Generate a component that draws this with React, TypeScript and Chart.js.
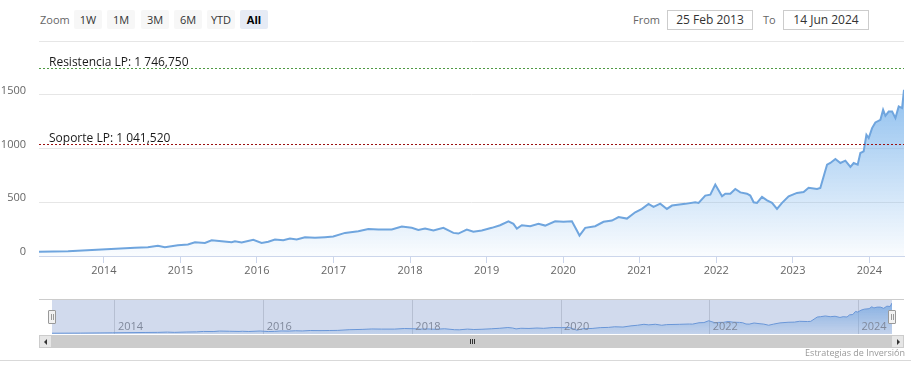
import React, { useEffect, useRef } from "react";
import { Chart, registerables } from "chart.js";

Chart.register(...registerables);

// ---------- data ----------
const years = [
  2013.153, 2013.533, 2013.970, 2014.405, 2014.575, 2014.706, 2014.797, 2014.967, 2015.098, 2015.190,
  2015.320, 2015.408, 2015.539, 2015.669, 2015.712, 2015.800, 2015.952, 2016.061, 2016.148, 2016.235,
  2016.344, 2016.431, 2016.519, 2016.627, 2016.758, 2016.889, 2016.997, 2017.150, 2017.324, 2017.455,
  2017.586, 2017.761, 2017.892, 2018.022, 2018.108, 2018.196, 2018.305, 2018.435, 2018.566, 2018.631,
  2018.741, 2018.827, 2018.937, 2019.068, 2019.176, 2019.285, 2019.350, 2019.395, 2019.460, 2019.569,
  2019.677, 2019.765, 2019.895, 2020.004, 2020.114, 2020.179, 2020.213, 2020.288, 2020.418, 2020.527,
  2020.637, 2020.723, 2020.833, 2020.941, 2021.029, 2021.115, 2021.180, 2021.268, 2021.355, 2021.421,
  2021.595, 2021.725, 2021.769, 2021.856, 2021.922, 2021.987, 2022.030, 2022.075, 2022.118, 2022.183,
  2022.248, 2022.314, 2022.401, 2022.444, 2022.488, 2022.532, 2022.597, 2022.663, 2022.728, 2022.793,
  2022.859, 2022.945, 2023.054, 2023.141, 2023.206, 2023.316, 2023.359, 2023.403, 2023.447, 2023.490,
  2023.556, 2023.621, 2023.686, 2023.752, 2023.795, 2023.847, 2023.882, 2023.925, 2023.961, 2023.991,
  2024.035, 2024.078, 2024.144, 2024.179, 2024.209, 2024.252, 2024.297, 2024.340, 2024.383, 2024.427,
  2024.452,
];

const prices = [
  39, 45, 60, 76, 82, 95, 82, 100, 107, 128,
  122, 147, 137, 128, 137, 125, 150, 122, 132, 153,
  147, 162, 153, 175, 169, 175, 181, 215, 230, 252,
  246, 246, 274, 262, 243, 255, 237, 262, 215, 209,
  246, 225, 237, 262, 286, 323, 299, 255, 286, 277,
  299, 283, 323, 318, 323, 237, 190, 262, 277, 318,
  330, 362, 348, 407, 438, 485, 457, 487, 438, 469,
  485, 500, 494, 562, 571, 664, 611, 555, 580, 580,
  624, 592, 580, 562, 500, 494, 550, 518, 494, 438,
  494, 555, 587, 595, 635, 624, 633, 741, 850, 865,
  902, 865, 887, 828, 865, 850, 958, 973, 1128, 1097,
  1190, 1242, 1267, 1360, 1304, 1344, 1344, 1283, 1391, 1376,
  1546,
];

const startYear = 2013.153; // 25 Feb 2013
const endYear = 2024.452; // 14 Jun 2024
const xTicksMain = [2014, 2015, 2016, 2017, 2018, 2019, 2020, 2021, 2022, 2023, 2024];
const xTicksNav = [2014, 2016, 2018, 2020, 2022, 2024];
const yTicks = [0, 500, 1000, 1500, 2000];
const yMax = 2000;
const navYMax = 1750;

const refValues = [1746.75, 1041.52];
const refNames = ["Resistencia LP", "Soporte LP"];
const refColors = ["#4e9a43", "#9b1010"];

const rangeButtons = ["1W", "1M", "3M", "6M", "YTD", "All"];
const selectedButton = "All";
const fromText = "25 Feb 2013";
const toText = "14 Jun 2024";
const creditText = "Estrategias de Inversión";

const FONT = "'Open Sans', 'Noto Sans', sans-serif";

function fmtNumber(v: number): string {
  const intPart = Math.floor(v).toString().replace(/\B(?=(\d{3})+$)/g, " ");
  const dec = v.toFixed(3).split(".")[1];
  return `${intPart},${dec}`;
}

const points = years.map((x, i) => ({ x, y: prices[i] }));

const refLinesPlugin = {
  id: "refLines",
  afterDatasetsDraw(chart: any) {
    const { ctx, chartArea, scales } = chart;
    const y = scales.y;
    ctx.save();
    refValues.forEach((v, i) => {
      const py = Math.round(y.getPixelForValue(v)) + 0.5;
      ctx.beginPath();
      ctx.setLineDash([2, 2]);
      ctx.strokeStyle = refColors[i];
      ctx.lineWidth = 1;
      ctx.moveTo(chartArea.left, py);
      ctx.lineTo(chartArea.right, py);
      ctx.stroke();
      ctx.setLineDash([]);
      ctx.fillStyle = "#1a1a1a";
      ctx.font = `12px ${FONT}`;
      ctx.textAlign = "left";
      ctx.textBaseline = "alphabetic";
      ctx.fillText(`${refNames[i]}: ${fmtNumber(v)}`, chartArea.left + 10, py - 3);
    });
    ctx.restore();
  },
};

const navPlugin = {
  id: "navDecor",
  afterDatasetsDraw(chart: any) {
    const { ctx, chartArea, scales } = chart;
    const x = scales.x;
    ctx.save();
    ctx.fillStyle = "#8a8a8a";
    ctx.font = `11px ${FONT}`;
    ctx.textAlign = "left";
    ctx.textBaseline = "alphabetic";
    xTicksNav.forEach((v) => {
      ctx.fillText(String(v), x.getPixelForValue(v) + 3, chartArea.bottom - 4);
    });
    ctx.fillStyle = "rgba(102,133,194,0.3)";
    ctx.fillRect(chartArea.left, chartArea.top, chartArea.right - chartArea.left, chartArea.bottom - chartArea.top);
    ctx.restore();
  },
};

function MainChart() {
  const ref = useRef<HTMLCanvasElement>(null);
  useEffect(() => {
    const chart = new Chart(ref.current as HTMLCanvasElement, {
      type: "line",
      data: {
        datasets: [
          {
            data: points,
            borderColor: "#6fa5de",
            borderWidth: 2,
            pointRadius: 0,
            tension: 0,
            fill: "origin",
            backgroundColor: (c: any) => {
              const ch = c.chart;
              const ca = ch.chartArea;
              if (!ca) return "rgba(124,181,236,0.4)";
              const top = ch.scales.y.getPixelForValue(Math.max(...prices));
              const g = ch.ctx.createLinearGradient(0, top, 0, ca.bottom);
              g.addColorStop(0, "rgba(124,181,236,0.85)");
              g.addColorStop(1, "rgba(124,181,236,0.04)");
              return g;
            },
          },
        ],
      },
      options: {
        animation: false,
        responsive: false,
        maintainAspectRatio: false,
        events: [],
        layout: { padding: { top: 41, right: 7, left: 0, bottom: 0 } },
        plugins: { legend: { display: false }, tooltip: { enabled: false } },
        scales: {
          x: {
            type: "linear",
            min: startYear,
            max: endYear,
            afterBuildTicks: (s: any) => {
              s.ticks = xTicksMain.map((v) => ({ value: v }));
            },
            afterFit: (s: any) => {
              s.height = 34;
            },
            ticks: {
              callback: (v: any) => String(v),
              autoSkip: false,
              maxRotation: 0,
              color: "#666",
              font: { family: FONT, size: 11 },
              padding: 1,
            },
            grid: { drawOnChartArea: false, drawTicks: true, tickLength: 7, color: "#ccd6eb" },
            border: { display: true, color: "#ccd6eb", width: 1 },
          },
          y: {
            min: 0,
            max: yMax,
            afterBuildTicks: (s: any) => {
              s.ticks = yTicks.map((v) => ({ value: v }));
            },
            afterFit: (s: any) => {
              s.width = 39;
            },
            ticks: {
              callback: (v: any) => (v === yMax ? "" : String(v)),
              color: "#666",
              font: { family: FONT, size: 11 },
              padding: 13,
              labelOffset: -4,
            },
            grid: { color: "#e6e6e6", drawTicks: false },
            border: { display: false },
          },
        },
      },
      plugins: [refLinesPlugin],
    } as any);
    return () => chart.destroy();
  }, []);
  return (
    <canvas
      ref={ref}
      width={911}
      height={290}
      style={{ position: "absolute", left: 0, top: 0, width: 911, height: 290 }}
    />
  );
}

function NavChart() {
  const ref = useRef<HTMLCanvasElement>(null);
  useEffect(() => {
    const chart = new Chart(ref.current as HTMLCanvasElement, {
      type: "line",
      data: {
        datasets: [
          {
            data: points,
            borderColor: "#6b9ee0",
            borderWidth: 1,
            pointRadius: 0,
            tension: 0,
            fill: "origin",
            backgroundColor: (c: any) => {
              const ch = c.chart;
              const ca = ch.chartArea;
              if (!ca) return "rgba(124,181,236,0.4)";
              const g = ch.ctx.createLinearGradient(0, ca.top, 0, ca.bottom);
              g.addColorStop(0, "rgba(124,181,236,0.9)");
              g.addColorStop(1, "rgba(124,181,236,0.15)");
              return g;
            },
          },
        ],
      },
      options: {
        animation: false,
        responsive: false,
        maintainAspectRatio: false,
        events: [],
        layout: { padding: { top: 9, right: 19, left: 52, bottom: 6 } },
        plugins: { legend: { display: false }, tooltip: { enabled: false } },
        scales: {
          x: {
            type: "linear",
            min: startYear,
            max: endYear,
            afterBuildTicks: (s: any) => {
              s.ticks = xTicksNav.map((v) => ({ value: v }));
            },
            afterFit: (s: any) => {
              s.height = 0;
            },
            ticks: { display: false },
            grid: { color: "#d8d8d8", drawTicks: false },
            border: { display: false },
          },
          y: {
            display: false,
            min: 0,
            max: navYMax,
          },
        },
      },
      plugins: [navPlugin],
    } as any);
    return () => chart.destroy();
  }, []);
  return (
    <canvas
      ref={ref}
      width={911}
      height={50}
      style={{ position: "absolute", left: 0, top: 290, width: 911, height: 50 }}
    />
  );
}

const abs = (l: number, t: number, w: number, h: number, extra: any = {}) => ({
  position: "absolute" as const,
  left: l,
  top: t,
  width: w,
  height: h,
  boxSizing: "border-box" as const,
  ...extra,
});

function Handle({ x }: { x: number }) {
  return (
    <div style={abs(x - 4, 310, 8, 14, { background: "#f2f2f2", border: "1px solid #999", borderRadius: 1 })}>
      <div style={abs(2, 3, 1, 6, { background: "#999" })} />
      <div style={abs(4, 3, 1, 6, { background: "#999" })} />
    </div>
  );
}

export default function App() {
  const btnLefts = [74, 107, 141, 174, 207, 240];
  return (
    <div style={abs(0, 0, 911, 376, { background: "#fff", fontFamily: FONT, overflow: "hidden" })}>
      {/* range selector */}
      <div style={abs(40, 10, 34, 19, { fontSize: 11, color: "#666", lineHeight: "19px" })}>Zoom</div>
      {rangeButtons.map((b, i) => (
        <div
          key={b}
          style={abs(btnLefts[i], 10, 28, 19, {
            background: b === selectedButton ? "#e6ebf5" : "#f7f7f7",
            borderRadius: 2,
            fontSize: 11,
            color: b === selectedButton ? "#000" : "#333",
            fontWeight: b === selectedButton ? 700 : 400,
            textAlign: "center",
            lineHeight: "19px",
          })}
        >
          {b}
        </div>
      ))}
      <div style={abs(633, 10, 34, 19, { fontSize: 11, color: "#666", lineHeight: "19px" })}>From</div>
      <div
        style={abs(667, 10, 86, 20, {
          border: "1px solid #cccccc",
          fontSize: 12,
          color: "#333",
          textAlign: "center",
          lineHeight: "18px",
        })}
      >
        {fromText}
      </div>
      <div style={abs(763, 10, 20, 19, { fontSize: 11, color: "#666", lineHeight: "19px" })}>To</div>
      <div
        style={abs(783, 10, 86, 20, {
          border: "1px solid #cccccc",
          fontSize: 12,
          color: "#333",
          textAlign: "center",
          lineHeight: "18px",
        })}
      >
        {toText}
      </div>

      <MainChart />
      <NavChart />

      {/* navigator outline */}
      <div style={abs(39, 299, 865, 1, { background: "#cccccc" })} />
      <Handle x={52} />
      <Handle x={892} />

      {/* scrollbar */}
      <div style={abs(39, 335, 865, 13, { background: "#f2f2f2" })} />
      <div style={abs(52, 335, 839, 13, { background: "#cccccc" })}>
        <div style={abs(418, 4, 1, 5, { background: "#333" })} />
        <div style={abs(420, 4, 1, 5, { background: "#333" })} />
        <div style={abs(422, 4, 1, 5, { background: "#333" })} />
      </div>
      <div style={abs(39, 335, 13, 13, { background: "#e6e6e6", border: "1px solid #cccccc" })}>
        <div
          style={abs(4, 3, 0, 0, {
            borderTop: "3px solid transparent",
            borderBottom: "3px solid transparent",
            borderRight: "3px solid #333",
          })}
        />
      </div>
      <div style={abs(891, 335, 13, 13, { background: "#e6e6e6", border: "1px solid #cccccc" })}>
        <div
          style={abs(5, 3, 0, 0, {
            borderTop: "3px solid transparent",
            borderBottom: "3px solid transparent",
            borderLeft: "3px solid #333",
          })}
        />
      </div>

      {/* credits */}
      <div style={abs(700, 347, 205, 12, { fontSize: 9, color: "#999", textAlign: "right", lineHeight: "12px" })}>
        {creditText}
      </div>
      <div style={abs(0, 360, 911, 1, { background: "#d9d9d9" })} />
    </div>
  );
}
